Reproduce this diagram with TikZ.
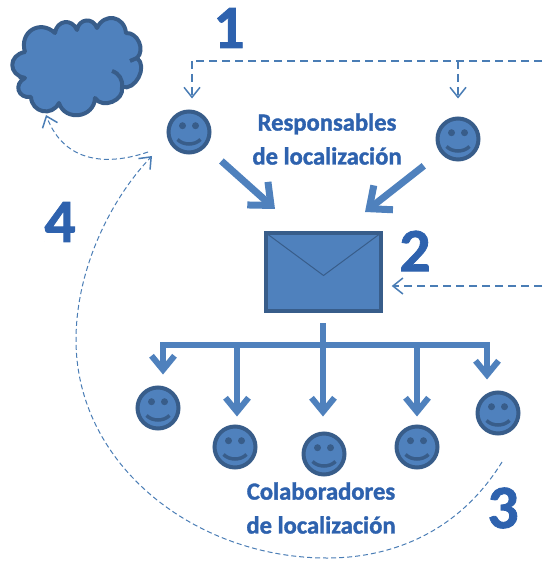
\documentclass[tikz,border=0pt]{standalone}
\usepackage{fontspec}
\setmainfont[BoldFeatures={FakeBold=1.4}]{Carlito}
\usetikzlibrary{arrows.meta}
\definecolor{facefill}{HTML}{4F81BD}
\definecolor{facedraw}{HTML}{385D8A}
\definecolor{labelblue}{HTML}{2E62AE}
\definecolor{dashblue}{HTML}{4A7DB5}
\tikzset{
	smiley/.style={circle,draw=facedraw,fill=facefill,line width=0.08cm,minimum size=0.82cm,inner sep=0pt,
		path picture={
			\fill[facedraw] ([shift={(-6.5,-6.3)}]path picture bounding box.center) circle (0.07cm);
			\fill[facedraw] ([shift={(6.5,-6.3)}]path picture bounding box.center) circle (0.07cm);
			\draw[facedraw,line width=0.07cm] ([shift={(-11.5,7.5)}]path picture bounding box.center)
				.. controls +(6,6) and +(-6,6) .. +(23,0);
		}},
	bigarrow/.style={draw=facefill,line width=0.11cm,-{Straight Barb[length=0.28cm,width=0.46cm,line width=0.12cm]}},
	diagarrow/.style={bigarrow,line width=0.14cm,-{Straight Barb[length=0.36cm,width=0.62cm,line width=0.14cm]}},
	busline/.style={draw=facefill,line width=0.11cm},
	dashline/.style={draw=dashblue,line width=0.025cm,dashed,dash pattern=on 0.16cm off 0.1cm},
	dashhead/.style={dashline,-{Straight Barb[length=0.2cm,width=0.32cm,line width=0.03cm]}},
	dashcurve/.style={dashhead,line width=0.02cm,dash pattern=on 0.1cm off 0.06cm},
	stepnum/.style={text=labelblue,font=\fontsize{35}{35}\selectfont\bfseries},
	grouplabel/.style={text=labelblue,align=center,font=\fontsize{14}{19.3}\selectfont\bfseries}
}
\begin{document}
\begin{tikzpicture}[x=0.02cm,y=-0.02cm]
	\useasboundingbox (0,0) rectangle (550,570);
	% cloud
	\draw[fill=facefill,draw=facedraw,line width=0.08cm,line join=round]
		(25,52) to[bend left=75,looseness=1.5] (55,33) to[bend left=75,looseness=1.5] (77,30)
		to[bend left=75,looseness=1.5] (97,28) to[bend left=75,looseness=1.5] (126,33)
		to[bend left=70,looseness=1.1] (137,58) to[bend left=80,looseness=1.1] (122,87)
		to[bend left=80,looseness=1.2] (95,98) to[bend left=80,looseness=1.4] (59,103)
		to[bend left=75,looseness=1.4] (31,97) to[bend left=80,looseness=1.7] (25,78)
		to[bend left=80,looseness=1.7] cycle;
	\draw[draw=facedraw,line width=0.08cm] (112,71) to[bend left=40] (122,87);
	\draw[draw=facedraw,line width=0.08cm] (25,78) -- (19,77);
	\draw[draw=facedraw,line width=0.08cm] (137,58) -- (130,61);
	% people
	\node[smiley] (resp1) at (189,132) {};
	\node[smiley] (resp2) at (458,139) {};
	\node[smiley] (col1) at (158,408) {};
	\node[smiley] (col2) at (235,447) {};
	\node[smiley] (col3) at (324,454) {};
	\node[smiley] (col4) at (417,447) {};
	\node[smiley] (col5) at (498,413) {};
	% envelope
	\node[draw=facedraw,fill=facefill,line width=0.09cm,minimum width=2.3cm,minimum height=1.56cm,inner sep=0pt,
		path picture={\draw[facedraw,line width=0.02cm]
			(path picture bounding box.north west) -- ([yshift=-0.85cm]path picture bounding box.north)
			-- (path picture bounding box.north east);}] (env) at (323.5,272) {};
	% labels
	\node[stepnum] (num1) at (229,28) {1};
	\node[stepnum] (num2) at (415,251) {2};
	\node[stepnum] (num3) at (503,508) {3};
	\node[stepnum] (num4) at (60,222) {4};
	\node[grouplabel] (resplabel) at (327,139) {Responsables\\de localización};
	\node[grouplabel] (collabel) at (321,508) {Colaboradores\\de localización};
	% big arrows
	\coordinate (tipa) at (275,209);
	\coordinate (tipb) at (365,212);
	\draw[diagarrow,shorten <=0.42cm] (resp1) -- (tipa);
	\draw[diagarrow,shorten <=0.42cm] (resp2) -- (tipb);
	% bus
	\coordinate (trunk) at (323,323);
	\coordinate (bus1) at (163,345);
	\coordinate (bus2) at (237,345);
	\coordinate (bus3) at (323,345);
	\coordinate (bus4) at (417,345);
	\coordinate (bus5) at (487,345);
	\draw[busline] (trunk) -- (bus3);
	\draw[busline,line cap=rect] (bus1) -- (bus5);
	\draw[bigarrow,shorten >=0.22cm] (bus1) -- (bus1 |- col1.north);
	\draw[bigarrow,shorten >=0.16cm] (bus2) -- (bus2 |- col2.north);
	\draw[bigarrow,shorten >=0.3cm] (bus3) -- (bus3 |- col3.north);
	\draw[bigarrow,shorten >=0.16cm] (bus4) -- (bus4 |- col4.north);
	\draw[bigarrow,shorten >=0.22cm] (bus5) -- (bus5 |- col5.north);
	% dashed lines
	\coordinate (topend) at (542,61);
	\coordinate (topa) at (192,61);
	\coordinate (topb) at (458,61);
	\coordinate (midend) at (542,286);
	\draw[dashline] (topend) -- (topa);
	\draw[dashhead,shorten >=0.22cm] (topa) -- (topa |- resp1.north);
	\draw[dashhead,shorten >=0.36cm] (topb) -- (resp2.north);
	\draw[dashhead,shorten >=0.17cm] (midend) -- (midend -| env.east);
	\coordinate (backa) at (148,152);
	\coordinate (cloudtip) at (46,115);
	\coordinate (backb) at (502,462);
	\coordinate (backc) at (152,156);
	\draw[dashcurve] (backa) .. controls (110,165) and (65,165) .. (cloudtip);
	\draw[dashcurve] (backb) .. controls (460,530) and (395,558) .. (327,558)
		.. controls (195,558) and (76,465) .. (76,340)
		.. controls (76,270) and (110,200) .. (backc);
\end{tikzpicture}
\end{document}
